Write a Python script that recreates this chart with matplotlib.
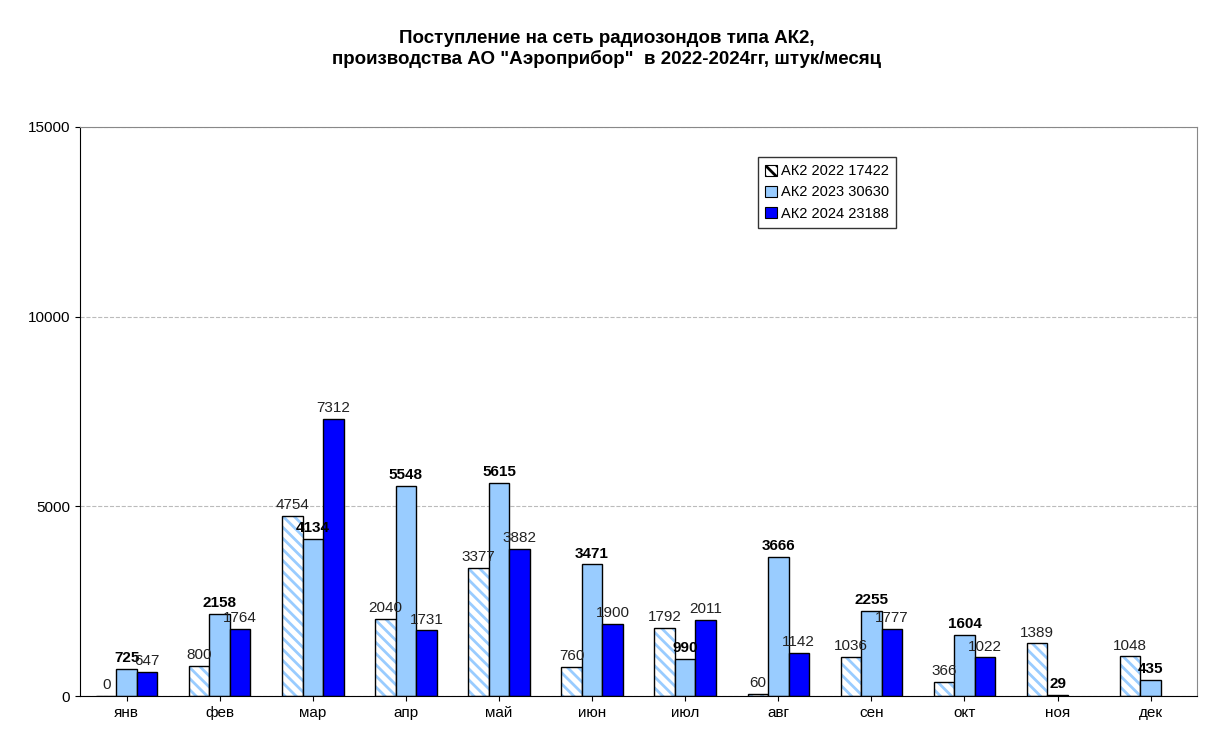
import numpy as np
import matplotlib.pyplot as plt
import matplotlib as mpl

mpl.rcParams['font.family'] = 'Liberation Sans'
mpl.rcParams['hatch.linewidth'] = 2.0

months = ['янв', 'фев', 'мар', 'апр', 'май', 'июн', 'июл', 'авг', 'сен', 'окт', 'ноя', 'дек']
ak2022 = [0, 800, 4754, 2040, 3377, 760, 1792, 60, 1036, 366, 1389, 1048]
ak2023 = [725, 2158, 4134, 5548, 5615, 3471, 990, 3666, 2255, 1604, 29, 435]
ak2024 = [647, 1764, 7312, 1731, 3882, 1900, 2011, 1142, 1777, 1022]
labels = ['АК2 2022 17422', 'АК2 2023 30630', 'АК2 2024 23188']

fig = plt.figure(figsize=(12.13, 7.55), dpi=100)
ax = fig.add_axes([0.066, 0.078, 0.921, 0.754])
x = np.arange(len(months))
w = 0.22

# hatch in light blue, then black outline on top
ax.bar(x - w, ak2022, w, color='white', hatch='\\\\\\', edgecolor='#99CCFF', linewidth=0, label=labels[0])
ax.bar(x - w, ak2022, w, color='none', edgecolor='black', linewidth=1)
ax.bar(x, ak2023, w, color='#99CCFF', edgecolor='black', linewidth=1, label=labels[1])
ax.bar(x[:len(ak2024)] + w, ak2024, w, color='#0000FF', edgecolor='black', linewidth=1, label=labels[2])

for i, v in enumerate(ak2022):
    ax.text(x[i] - w, v + 100, str(v), ha='center', va='bottom', fontsize=11, color='#222222')
for i, v in enumerate(ak2023):
    ax.text(x[i], v + 100, str(v), ha='center', va='bottom', fontsize=11, fontweight='bold')
for i, v in enumerate(ak2024):
    ax.text(x[i] + w, v + 100, str(v), ha='center', va='bottom', fontsize=11, color='#222222')

ax.set_xlim(-0.5, len(months) - 0.5)
ax.set_ylim(0, 15000)
ax.set_yticks([0, 5000, 10000, 15000])
ax.set_xticks(x)
ax.set_xticklabels(months)
ax.tick_params(labelsize=11)
ax.yaxis.grid(True, linestyle='--', color='#bbbbbb', linewidth=0.8)
ax.set_axisbelow(True)
for s in ax.spines.values():
    s.set_color('#888888')
ax.spines['left'].set_color('black')
ax.spines['bottom'].set_color('black')

leg = ax.legend(loc='upper left', bbox_to_anchor=(0.6, 0.96), fontsize=10.5, frameon=True,
                fancybox=False, edgecolor='black', handlelength=0.8, handleheight=0.8,
                handletextpad=0.3, borderpad=0.5)
leg.get_frame().set_linewidth(1)
for h in leg.legend_handles:
    h.set_edgecolor('black')
    h.set_linewidth(0.8)

fig.suptitle('Поступление на сеть радиозондов типа АК2,\nпроизводства АО "Аэроприбор"  в 2022-2024гг, штук/месяц',
             y=0.96, fontsize=13.5, fontweight='bold')

fig.savefig('out.png', dpi=100)
